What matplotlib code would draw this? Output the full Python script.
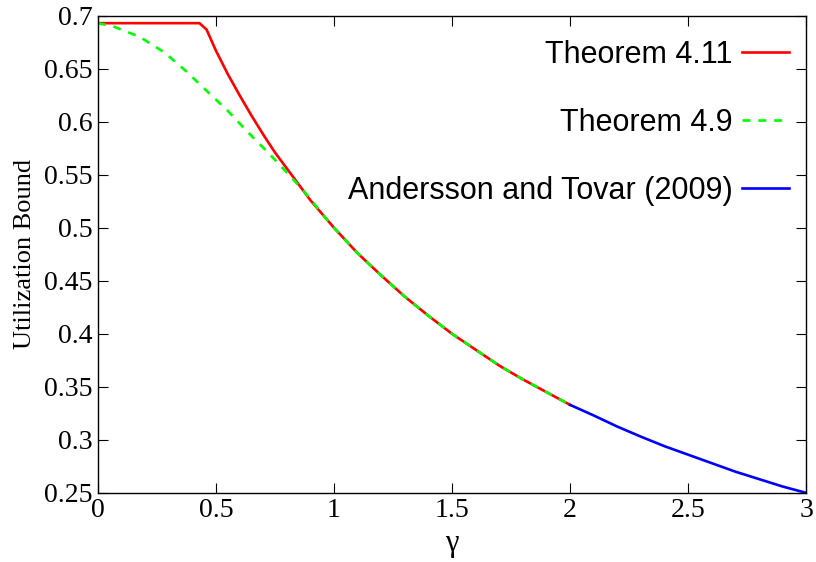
import matplotlib
matplotlib.use("Agg")
import matplotlib.pyplot as plt

# values
thm411_x = [0.0, 0.1, 0.2, 0.3, 0.4, 0.43, 0.46, 0.5, 0.55, 0.6, 0.65, 0.7, 0.75, 0.8, 0.85, 0.9,
            1.0, 1.1, 1.2, 1.3, 1.4, 1.5, 1.6, 1.7, 1.8, 1.9, 2.0]
thm411_y = [0.693, 0.693, 0.693, 0.693, 0.693, 0.693, 0.687, 0.667, 0.645, 0.625, 0.606, 0.588,
            0.571, 0.556, 0.541, 0.526, 0.500, 0.476, 0.455, 0.435, 0.417, 0.400, 0.385, 0.370,
            0.357, 0.345, 0.333]

thm49_x = [0.0, 0.064, 0.178, 0.284, 0.377, 0.466, 0.547, 0.636, 0.729, 0.814, 0.886, 0.95,
           1.0, 1.1, 1.2, 1.3, 1.4, 1.5, 1.6, 1.7, 1.8, 1.9, 2.0]
thm49_y = [0.693, 0.690, 0.680, 0.665, 0.647, 0.628, 0.611, 0.590, 0.569, 0.549, 0.531, 0.513,
           0.500, 0.476, 0.455, 0.435, 0.417, 0.400, 0.385, 0.370, 0.357, 0.345, 0.333]

at_x = [2.0, 2.1, 2.2, 2.3, 2.4, 2.5, 2.6, 2.7, 2.8, 2.9, 3.0]
at_y = [0.333, 0.323, 0.3125, 0.303, 0.294, 0.286, 0.278, 0.270, 0.263, 0.256, 0.250]

xticks = [0, 0.5, 1, 1.5, 2, 2.5, 3]
xtick_labels = ["0", "0.5", "1", "1.5", "2", "2.5", "3"]
yticks = [0.25, 0.3, 0.35, 0.4, 0.45, 0.5, 0.55, 0.6, 0.65, 0.7]
ytick_labels = ["0.25", "0.3", "0.35", "0.4", "0.45", "0.5", "0.55", "0.6", "0.65", "0.7"]

fig = plt.figure(figsize=(8.16, 5.62), dpi=100)
ax = fig.add_axes([0.120, 0.123, 0.868, 0.849])

ax.plot(thm411_x, thm411_y, color="#ff0000", lw=1.9, label="Theorem 4.11")
ax.plot(thm49_x, thm49_y, color="#00ff00", lw=1.9, dashes=(3, 3), label="Theorem 4.9")
ax.plot(at_x, at_y, color="#0000ff", lw=1.9, label="Andersson and Tovar (2009)")

ax.set_xlim(0, 3)
ax.set_ylim(0.25, 0.7)
ax.set_xticks(xticks)
ax.set_xticklabels(xtick_labels, family="Liberation Serif", fontsize=20)
ax.set_yticks(yticks)
ax.set_yticklabels(ytick_labels, family="Liberation Serif", fontsize=20)
ax.tick_params(direction="in", length=7, width=0.8, top=True, right=True, pad=4)
for s in ax.spines.values():
    s.set_linewidth(1.0)

ax.set_xlabel("γ", family="Liberation Serif", fontsize=22, labelpad=4)
ax.set_ylabel("Utilization Bound", family="Liberation Serif", fontsize=19)
ax.yaxis.set_label_coords(-0.088, 0.5)

ax.legend(loc="upper right", bbox_to_anchor=(1.0, 0.985), frameon=False, markerfirst=False,
          prop={"family": "Liberation Sans", "size": 22},
          handlelength=1.55, handletextpad=0.3, labelspacing=1.25,
          borderaxespad=0.15)

fig.savefig("out.png", dpi=100)
